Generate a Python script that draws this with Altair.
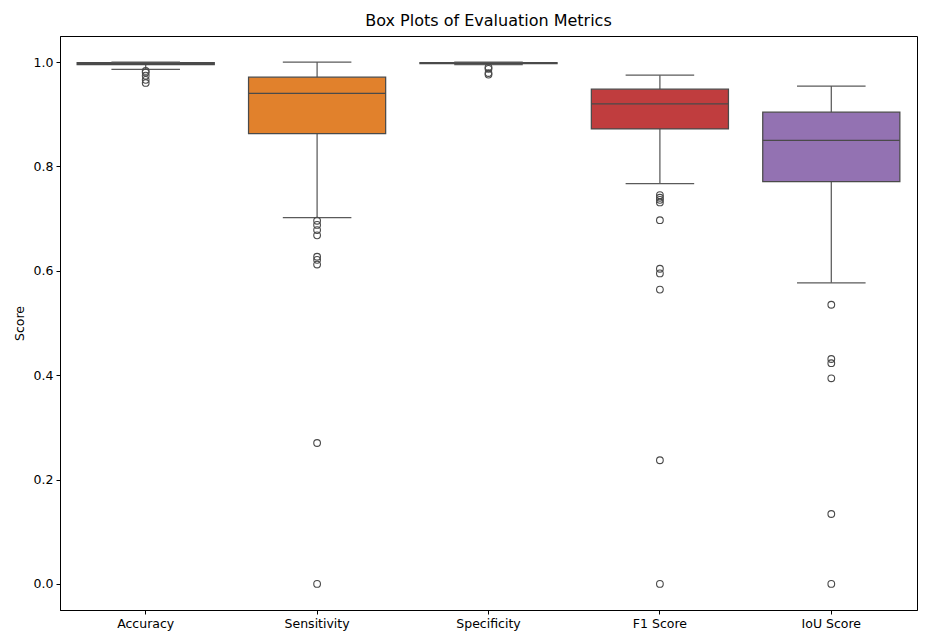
import altair as alt
import pandas as pd

metrics = ["Accuracy", "Sensitivity", "Specificity", "F1 Score", "IoU Score"]
colors = ["#3274a1", "#e1812c", "#3a923a", "#c03d3e", "#9372b2"]

q1 = [0.995, 0.863, 0.997, 0.872, 0.771]
median = [0.997, 0.940, 0.998, 0.920, 0.850]
q3 = [0.999, 0.971, 0.999, 0.948, 0.904]
whisker_low = [0.986, 0.702, 0.995, 0.767, 0.577]
whisker_high = [1.000, 1.000, 1.000, 0.975, 0.954]

acc_out = [0.983, 0.980, 0.974, 0.966, 0.960]
sens_out = [0.696, 0.688, 0.678, 0.668, 0.627, 0.621, 0.612, 0.270, 0.0]
spec_out = [0.990, 0.987, 0.979, 0.976]
f1_out = [0.745, 0.740, 0.736, 0.731, 0.697, 0.604, 0.595, 0.564, 0.237, 0.0]
iou_out = [0.535, 0.431, 0.423, 0.394, 0.134, 0.0]

stats = pd.DataFrame({
    "metric": metrics, "q1": q1, "median": median, "q3": q3,
    "wl": whisker_low, "wh": whisker_high,
})
outs = pd.DataFrame(
    [(m, v) for m, vals in zip(metrics, [acc_out, sens_out, spec_out, f1_out, iou_out]) for v in vals],
    columns=["metric", "value"],
)

W, H = 857, 574
band = W / len(metrics)
LINE = "#4a4a4a"
WHISK = "#5a5a5a"
FONT = "DejaVu Sans"

xenc = alt.X("metric:N", sort=metrics,
             scale=alt.Scale(paddingInner=0, paddingOuter=0),
             axis=alt.Axis(title=None, labelAngle=0))
yscale = alt.Scale(domain=[-0.05, 1.05], nice=False, zero=False)
yaxis = alt.Axis(title="Score", values=[0, 0.2, 0.4, 0.6, 0.8, 1.0], format=".1f", grid=False)

base = alt.Chart(stats)

upper = base.mark_rule(color=WHISK, strokeWidth=1.25).encode(
    x=xenc, y=alt.Y("q3:Q", scale=yscale, axis=yaxis), y2="wh:Q")
lower = base.mark_rule(color=WHISK, strokeWidth=1.25).encode(
    x=xenc, y=alt.Y("wl:Q", scale=yscale, axis=yaxis), y2="q1:Q")
boxes = base.mark_bar(width={"band": 0.8}, stroke=LINE, strokeWidth=1.25, opacity=1).encode(
    x=xenc, y=alt.Y("q1:Q", scale=yscale, axis=yaxis), y2="q3:Q",
    color=alt.Color("metric:N", scale=alt.Scale(domain=metrics, range=colors), legend=None))
med = base.mark_tick(color=LINE, size=band * 0.8, thickness=1.25, opacity=1).encode(
    x=xenc, y=alt.Y("median:Q", scale=yscale, axis=yaxis))
cap_hi = base.mark_tick(color=WHISK, size=band * 0.4, thickness=1.25, opacity=1).encode(
    x=xenc, y=alt.Y("wh:Q", scale=yscale, axis=yaxis))
cap_lo = base.mark_tick(color=WHISK, size=band * 0.4, thickness=1.25, opacity=1).encode(
    x=xenc, y=alt.Y("wl:Q", scale=yscale, axis=yaxis))
fliers = alt.Chart(outs).mark_point(shape="circle", filled=False, color=LINE, size=45, strokeWidth=1.1, opacity=1).encode(
    x=xenc, y=alt.Y("value:Q", scale=yscale, axis=yaxis))

chart = alt.layer(upper, lower, boxes, med, cap_hi, cap_lo, fliers).properties(
    width=W, height=H,
    title=alt.TitleParams("Box Plots of Evaluation Metrics", font=FONT, fontSize=16,
                          fontWeight="normal", color="black", offset=7),
    autosize=alt.AutoSizeParams(type="none"),
    padding={"left": 52, "top": 28, "right": 1, "bottom": 22},
).configure_view(
    stroke="black", strokeWidth=1
).configure_axis(
    labelFont=FONT, labelFontSize=12.5, labelColor="black",
    titleFont=FONT, titleFontSize=12.5, titleFontWeight="normal", titleColor="black",
    domainColor="black", tickColor="black", tickSize=4, labelPadding=3,
).configure_axisY(titlePadding=7)

chart.save("out.html", embed_options={"renderer": "svg", "actions": False})
